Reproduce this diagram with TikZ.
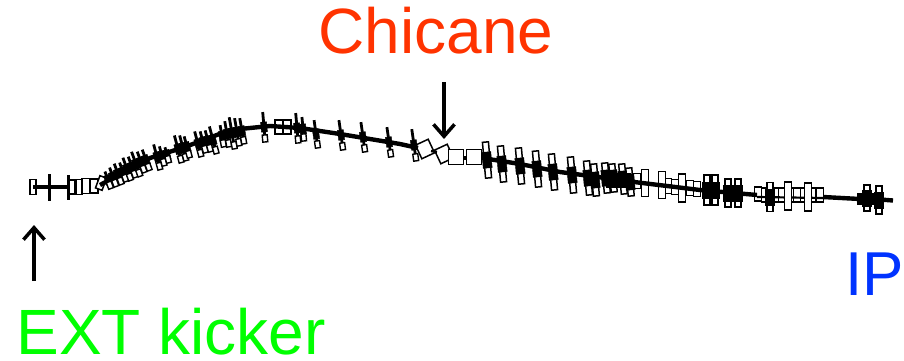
\documentclass[tikz,border=0pt]{standalone}
\usepackage{fontspec}
\setmainfont{Liberation Sans}
\usetikzlibrary{arrows.meta}
\definecolor{chicaneRed}{RGB}{255,51,0}
\definecolor{kickerGreen}{RGB}{0,255,0}
\definecolor{ipBlue}{RGB}{0,51,255}
\tikzset{
    beam/.style={line width=4.4pt,line join=round},
    magnetBox/.style={draw=black,fill=white,line width=1.5pt},
    labelText/.style={font=\fontsize{64}{64}\selectfont,inner sep=0pt,anchor=base},
    pointer/.style={line width=3.5pt,-{Straight Barb[length=12pt,width=21pt,line width=3.5pt]}},
}
\begin{document}
\begin{tikzpicture}[x=1pt,y=-1pt]
        \useasboundingbox (0,0) rectangle (904,361);

        % plain dipole boxes, x/y/angle/width/height
        \foreach \x/\y/\a/\w/\h in {33/187/0/6/15,72/187/0/6/14,79/187/0/6/15,86/186/0/8/15,94/186/0/8/14,
                101/183/-20/7/13,
                279/127/0/8/14,287/127/0/8/14,
                425/149/25/14/15,444/154/25/14/15,456/157/0/15/15,474/157/0/15/15,
                637/181/0/7/15,644/181/0/7/15,
                668/186/0/7/15,675/187/0/7/15,682/188/0/7/15,690/188/0/7/15,697/189/0/7/15,
                758/194/0/7/14,765/195/0/7/14,775/195/0/7/14,782/195/0/7/14,790/195/0/7/14,
                797/195/0/7/14,804/195/0/7/14,812/195/0/7/14,820/195/0/7/14} {
                \begin{scope}[shift={(\x,\y)},rotate=\a]
                    \draw [magnetBox] (-\w/2,-\h/2) rectangle (\w/2,\h/2);
                \end{scope}
            }

        \draw [beam] (33,187) -- (70,187);
        \draw [beam] (100,185) -- (125,172) -- (150,158) -- (185,147) -- (230,130) -- (270,126)
            -- (300,128) -- (340,134) -- (400,144) -- (418,148);
        \draw [line width=2.4pt] (431,151) -- (437,152);
        \draw [beam] (464,158) -- (466,158);
        \draw [beam] (482,158) -- (520,164) -- (560,172) -- (620,180) -- (634,182);
        \draw [beam] (700,190) -- (757,195);
        \draw [line width=2.2pt] (757,197) -- (823,198);
        \draw [beam] (823,197) -- (860,199);
        \draw [beam] (880,199.5) -- (893,200.5);

        % thin correctors
        \draw [line width=3pt] (49,174) -- (49,201) (68,175) -- (68,200);
        \foreach \x/\y/\a/\h in {108/180/20/18,113/177/20/20,118/174/20/22,123/172/20/20,127/169/20/24,132/167/20/22,136/164/20/26,141/162/20/22,146/160/20/22,
                157/157/15/26,162/156/15/20,167/155/15/16,178/149/15/28,183/148/15/26,187/147/15/22,
                198/144/15/26,203/142/15/22,208/141/15/22,213/140/15/28,222/136/10/22,227/134/10/26,232/133/10/32,237/132/10/28,242/131/10/26,
                264/127/5/30,297/128/5/30,303/129/5/24,
                316/134/8/28,341/135/8/30,363/137/8/30,389/142/8/30,414/145/8/32} {
                \begin{scope}[shift={(\x,\y)},rotate=\a]
                    \draw [line width=2.8pt] (0,-\h/2) -- (0,\h/2);
                    \draw [black,fill=black] (-3,-5) rectangle (3,5);
                    \draw [magnetBox,line width=1.4pt] (-2.5,\h/2-7) rectangle (2.5,\h/2);
                \end{scope}
            }

        % quadrupole doublets, boxes above and below the beam
        \foreach \x/\y/\a/\h in {487/160/5/36,502/164/5/36,520/166/5/36,537/169/5/36,553/172/5/36,572/175/5/36,588/178/5/34,595/180/5/32,
                606/178/5/30,613/178/5/28,623/179/5/30,630/182/5/28,
                707/190/0/30,715/190/0/30,728/193/0/28,738/193/0/28,
                770/197/0/29,867/198/0/26,879/200/0/28} {
                \begin{scope}[shift={(\x,\y)},rotate=\a]
                    \draw [magnetBox] (-3,-\h/2) rectangle (3,\h/2);
                    \draw [black,fill=black] (-4.5,-8) rectangle (4.5,8);
                \end{scope}
            }

        % tall quadrupoles with a thin core
        \foreach \x/\y/\h in {645/183/27,662/185/27,682/188/28,788/196/28,808/197/28} {
                \draw [magnetBox] (\x-3.5,\y-\h/2) rectangle (\x+3.5,\y+\h/2);
            }

        \draw [beam] (634,182) -- (700,190);
        \draw [black,fill=black] (857,193) rectangle (881,204);
        \draw [black,fill=black] (606,173) rectangle (630,187);
        \draw [black,fill=black] (704,185) rectangle (718,194);
        \draw [black,fill=black] (726,187) rectangle (742,198);

        \node (chicaneLabel) [labelText,text=chicaneRed] at (436,54) {Chicane};
        \node (extLabel) [labelText,text=kickerGreen] at (171,354) {EXT kicker};
        \node (ipLabel) [labelText,text=ipBlue,font=\fontsize{62}{62}\selectfont] at (874.5,295) {IP};

        \coordinate (chicaneTop) at (444,82);
        \coordinate (chicaneEnd) at (444,139);
        \coordinate (extBottom) at (34,281);
        \coordinate (extEnd) at (34,225);
        \draw [pointer] (chicaneTop) -- (chicaneEnd);
        \draw [pointer] (extBottom) -- (extEnd);
    \end{tikzpicture}
\end{document}
